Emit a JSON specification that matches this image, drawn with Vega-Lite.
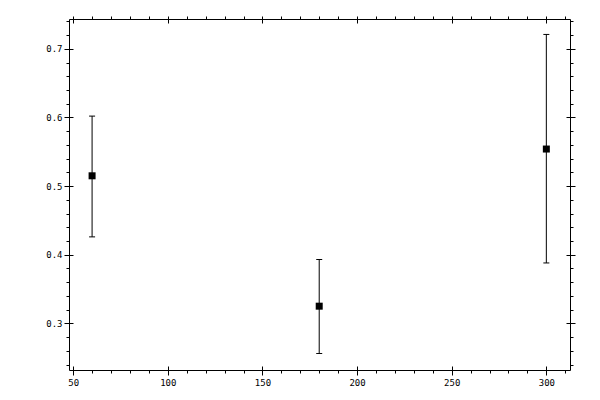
{
  "$schema": "https://vega.github.io/schema/vega-lite/v6.json",
  "width": 501,
  "height": 351,
  "autosize": {"type": "none"},
  "padding": {"left": 69, "top": 19, "right": 30, "bottom": 30},
  "background": "white",
  "data": {
    "values": [
      {"x": 60, "y": 0.515, "lo": 0.426, "hi": 0.602},
      {"x": 180, "y": 0.325, "lo": 0.256, "hi": 0.393},
      {"x": 300, "y": 0.554, "lo": 0.388, "hi": 0.721}
    ]
  },
  "resolve": {"axis": {"x": "independent", "y": "independent"}},
  "layer": [
    {
      "mark": {"type": "point", "shape": "square", "filled": true, "size": 49, "color": "black", "opacity": 1},
      "encoding": {
        "x": {
          "field": "x", "type": "quantitative",
          "scale": {"domain": [47.8, 312.5], "nice": false, "zero": false},
          "axis": {"orient": "bottom", "title": null, "values": [50, 100, 150, 200, 250, 300], "format": "d", "tickSize": 9, "offset": -4, "labelPadding": 3}
        },
        "y": {
          "field": "y", "type": "quantitative",
          "scale": {"domain": [0.232, 0.7435], "nice": false, "zero": false},
          "axis": {"orient": "left", "title": null, "values": [0.3, 0.4, 0.5, 0.6, 0.7], "format": ".1f", "tickSize": 9, "offset": -4, "labelPadding": 2}
        }
      }
    },
    {
      "mark": {"type": "rule", "color": "black", "strokeWidth": 1},
      "encoding": {
        "x": {
          "field": "x", "type": "quantitative",
          "scale": {"domain": [47.8, 312.5], "nice": false, "zero": false},
          "axis": {"orient": "bottom", "title": null, "labels": false, "values": [60, 70, 80, 90, 110, 120, 130, 140, 160, 170, 180, 190, 210, 220, 230, 240, 260, 270, 280, 290, 310], "tickSize": 3}
        },
        "y": {
          "field": "lo", "type": "quantitative",
          "scale": {"domain": [0.232, 0.7435], "nice": false, "zero": false},
          "axis": {"orient": "left", "title": null, "labels": false, "values": [0.24, 0.26, 0.28, 0.32, 0.34, 0.36, 0.38, 0.42, 0.44, 0.46, 0.48, 0.52, 0.54, 0.56, 0.58, 0.62, 0.64, 0.66, 0.68, 0.72, 0.74], "tickSize": 3}
        },
        "y2": {"field": "hi"}
      }
    },
    {
      "mark": {"type": "tick", "orient": "horizontal", "size": 6, "thickness": 1, "color": "black", "opacity": 1},
      "encoding": {
        "x": {
          "field": "x", "type": "quantitative",
          "scale": {"domain": [47.8, 312.5], "nice": false, "zero": false},
          "axis": {"orient": "top", "title": null, "labels": false, "values": [50, 100, 150, 200, 250, 300], "tickSize": 7, "offset": -4}
        },
        "y": {
          "field": "hi", "type": "quantitative",
          "scale": {"domain": [0.232, 0.7435], "nice": false, "zero": false},
          "axis": {"orient": "right", "title": null, "labels": false, "values": [0.3, 0.4, 0.5, 0.6, 0.7], "tickSize": 9, "offset": -4}
        }
      }
    },
    {
      "mark": {"type": "tick", "orient": "horizontal", "size": 6, "thickness": 1, "color": "black", "opacity": 1},
      "encoding": {
        "x": {
          "field": "x", "type": "quantitative",
          "scale": {"domain": [47.8, 312.5], "nice": false, "zero": false},
          "axis": {"orient": "top", "title": null, "labels": false, "values": [60, 70, 80, 90, 110, 120, 130, 140, 160, 170, 180, 190, 210, 220, 230, 240, 260, 270, 280, 290, 310], "tickSize": 3}
        },
        "y": {
          "field": "lo", "type": "quantitative",
          "scale": {"domain": [0.232, 0.7435], "nice": false, "zero": false},
          "axis": {"orient": "right", "title": null, "labels": false, "values": [0.24, 0.26, 0.28, 0.32, 0.34, 0.36, 0.38, 0.42, 0.44, 0.46, 0.48, 0.52, 0.54, 0.56, 0.58, 0.62, 0.64, 0.66, 0.68, 0.72, 0.74], "tickSize": 3}
        }
      }
    }
  ],
  "config": {
    "view": {"stroke": "black", "strokeWidth": 1},
    "axis": {
      "domain": false,
      "grid": false,
      "ticks": true,
      "tickColor": "black",
      "tickWidth": 1,
      "labelColor": "black",
      "labelFont": "DejaVu Sans Mono",
      "labelFontSize": 9
    }
  }
}
